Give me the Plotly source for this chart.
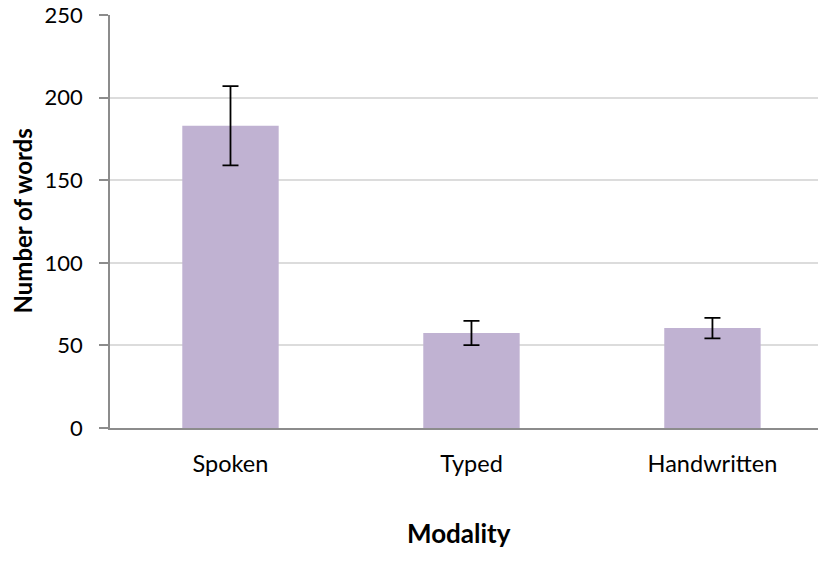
import plotly.graph_objects as go

categories = ["Spoken", "Typed", "Handwritten"]
values = [183, 57.5, 60.5]
errors = [24, 7.3, 6.2]
y_ticks = [0, 50, 100, 150, 200, 250]

W, H = 818, 577
ml, mr, mt, mb = 110, 0, 15, 149

fig = go.Figure()
fig.add_trace(go.Bar(
    x=categories, y=values,
    marker=dict(color="#C0B2D2", line=dict(width=0)),
    width=0.4,
    error_y=dict(type="data", array=errors, visible=True, color="black",
                 thickness=1.8, width=8),
))

pw = W - ml - mr
ph = H - mt - mb

fig.update_layout(
    width=W, height=H,
    margin=dict(l=ml, r=mr, t=mt, b=mb, autoexpand=False),
    plot_bgcolor="white", paper_bgcolor="white",
    showlegend=False,
    font=dict(family="Lato, 'Open Sans', sans-serif", color="black", size=22),
    xaxis=dict(
        range=[-0.5, 2.438],
        showline=True, linecolor="#8C8C8C", linewidth=1.5,
        ticks="", showgrid=False,
        tickfont=dict(size=23.5),
        ticklabelstandoff=14,
        automargin=False,
    ),
    yaxis=dict(
        range=[0, 250],
        tickvals=y_ticks,
        showline=True, linecolor="#8C8C8C", linewidth=1.5,
        ticks="outside", ticklen=9, tickcolor="#8C8C8C", tickwidth=1.5,
        showgrid=True, gridcolor="#DCDCDC", gridwidth=1.5,
        zeroline=False,
        tickfont=dict(size=22),
        ticklabelstandoff=12,
        automargin=False,
    ),
    annotations=[
        dict(text="<b>Number of words</b>", x=(22 - ml) / pw, xref="paper",
             xanchor="center", y=0.5, yref="paper", yanchor="middle",
             textangle=-90, showarrow=False, font=dict(size=24)),
        dict(text="<b>Modality</b>", x=(459 - ml) / pw, xref="paper",
             xanchor="center", y=-105 / ph, yref="paper", yanchor="middle",
             showarrow=False, font=dict(size=26)),
    ],
)

fig.write_html(
    "out.html",
    config={"displayModeBar": False},
    post_script="document.body.style.margin='0';document.body.style.overflow='hidden';",
)
